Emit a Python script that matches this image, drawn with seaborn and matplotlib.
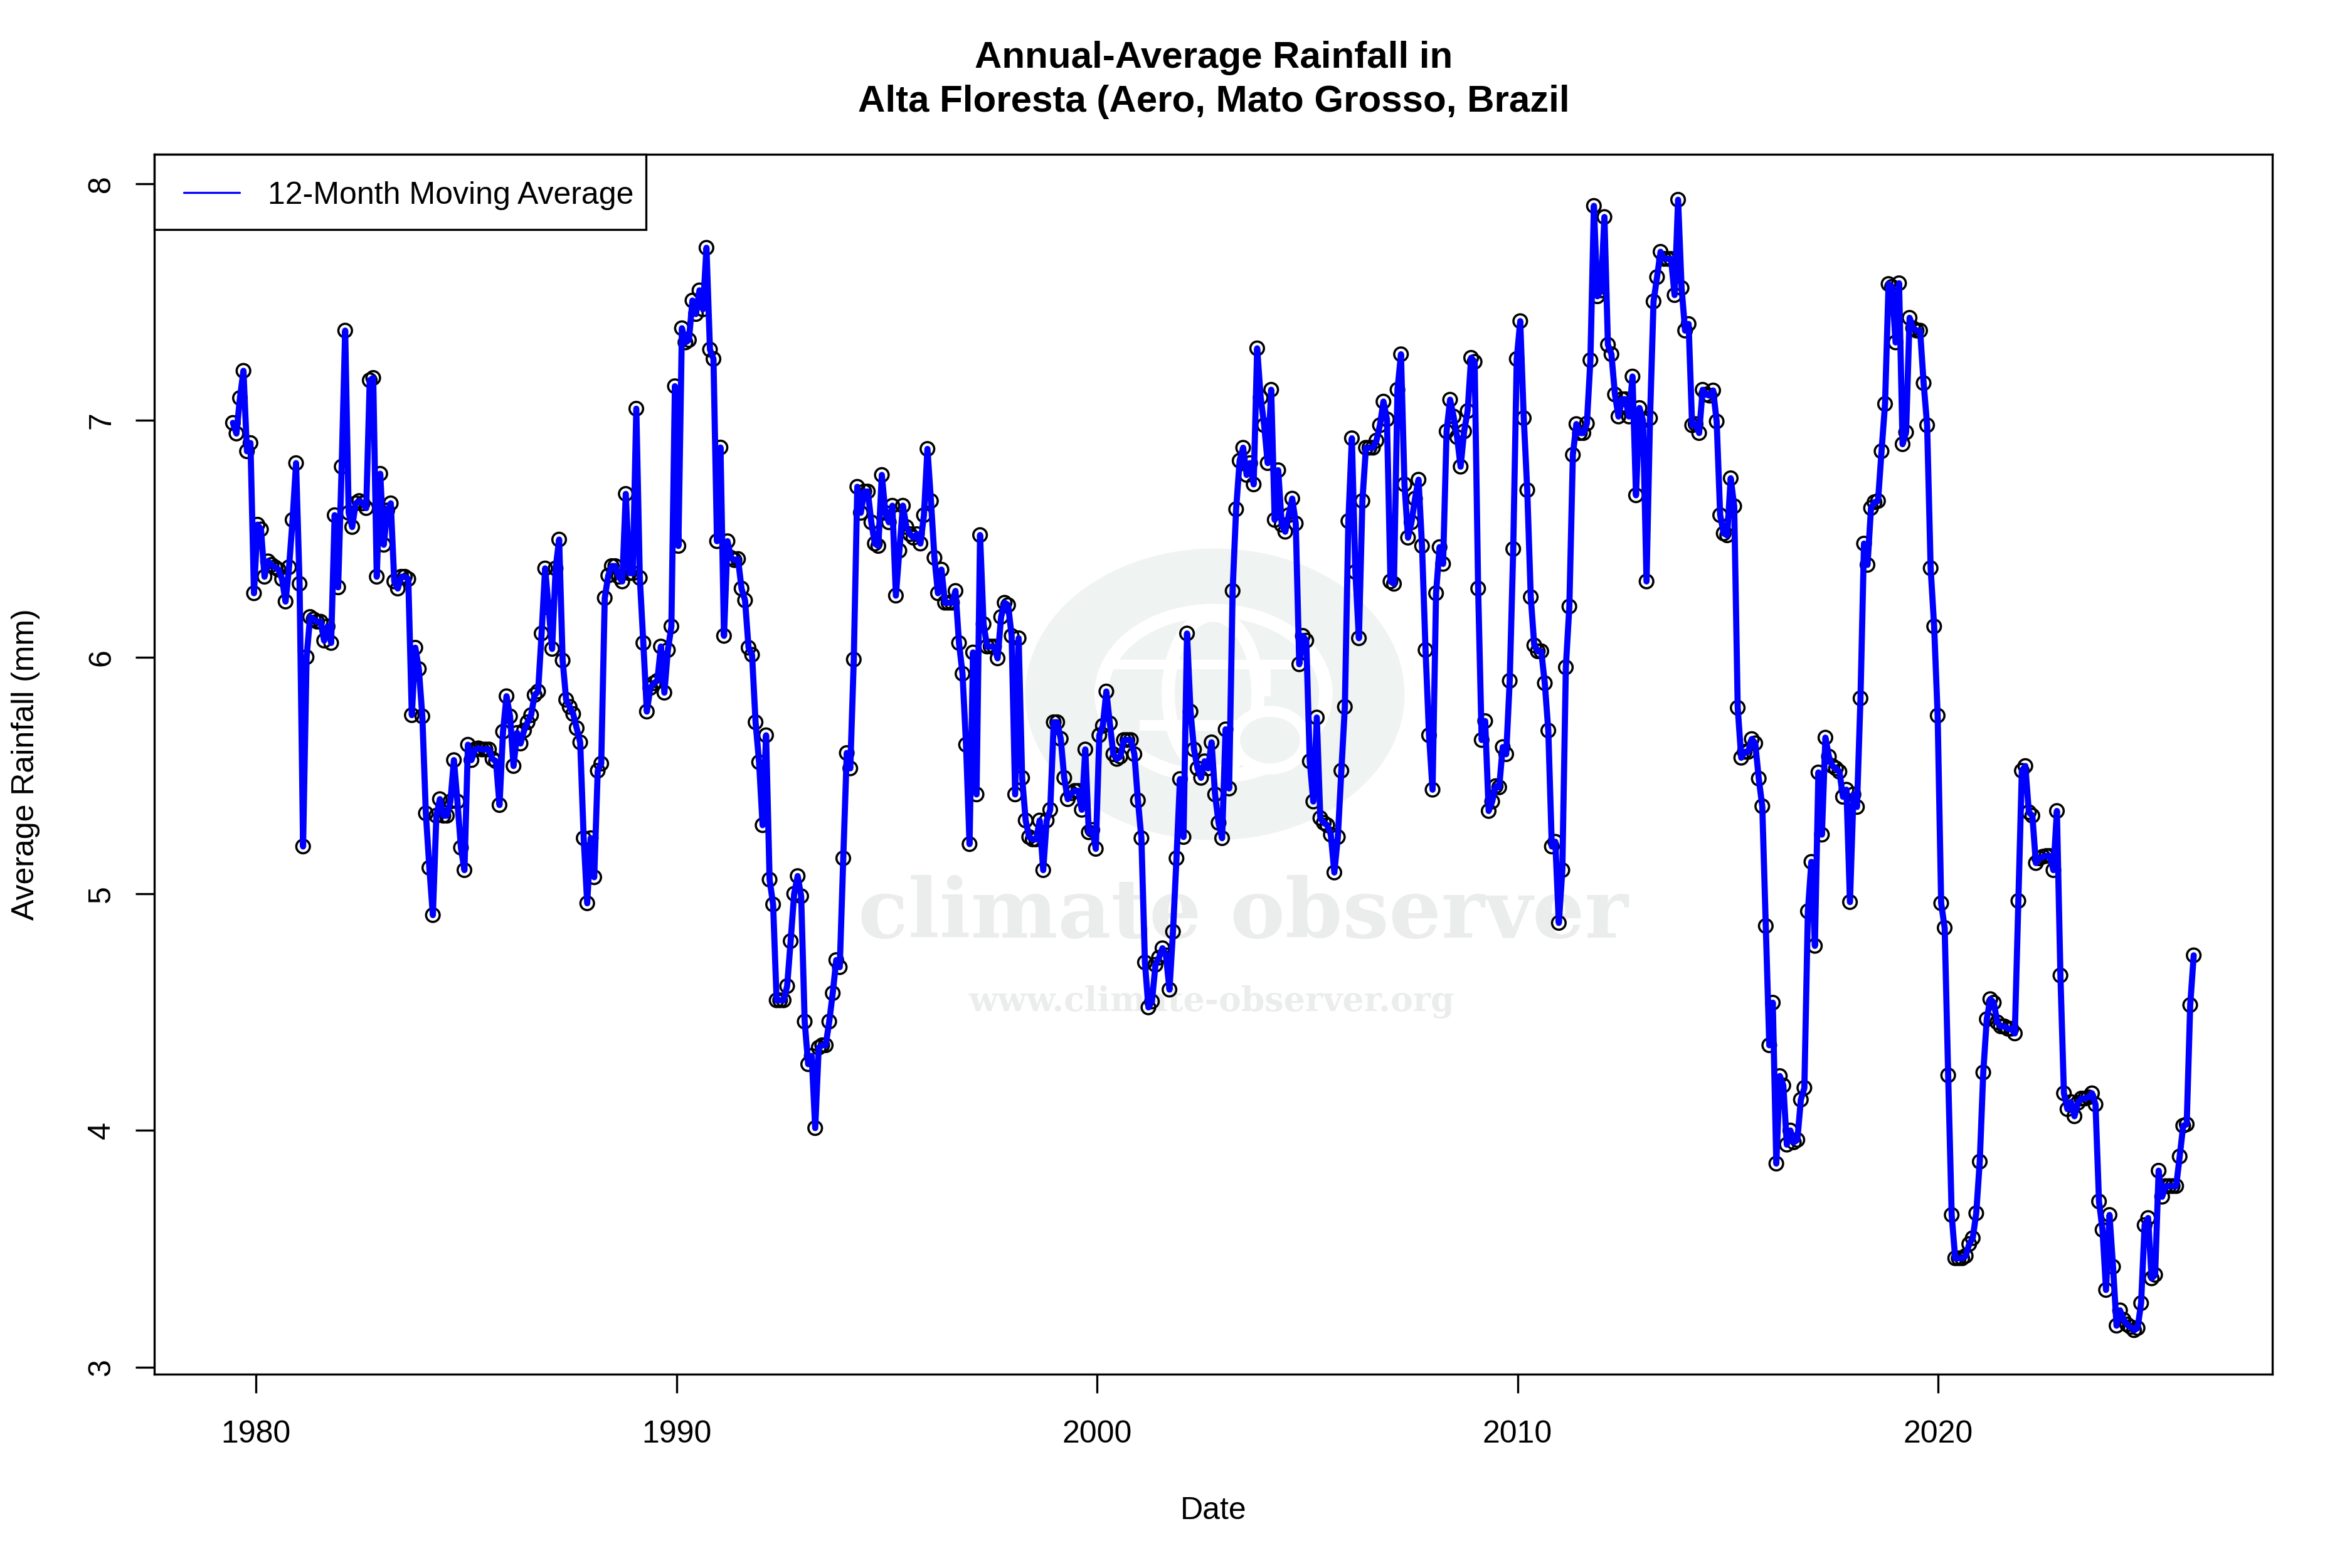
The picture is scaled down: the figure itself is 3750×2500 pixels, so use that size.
import numpy as np
import pandas as pd
import matplotlib
matplotlib.use("Agg")
import matplotlib.pyplot as plt
from matplotlib.lines import Line2D
from matplotlib.patches import Ellipse, Rectangle
import seaborn as sns

# monthly values, split by stretch of the record
rain_1979_88 = [6.99,6.945,7.095,7.21,6.87,6.905,6.27,6.56,6.54,6.34,6.405,6.39,6.38,6.37,6.33,6.235,6.38,6.58,6.82,6.31,
    5.20,6.0,6.17,6.16,6.15,6.15,6.07,6.13,6.06,6.60,6.295,6.805,7.38,6.61,6.55,6.65,6.66,6.65,6.63,7.17,7.18,6.34,6.775,
    6.475,6.62,6.65,6.32,6.29,6.34,6.34,6.33,5.755,6.04,5.95,5.75,5.34,5.11,4.91,5.33,5.40,5.33,5.33,5.39,5.565,5.39,5.195,
    5.10,5.63,5.565,5.61,5.615,5.61,5.61,5.61,5.57,5.56,5.375,5.685,5.835,5.75,5.54,5.68,5.635,5.69,5.725,5.755,5.84,5.855,
    6.10,6.375,6.21,6.035,6.375,6.497,5.986,5.82,5.79,5.76,5.70,5.64,5.235,4.96,5.235,5.07,5.52,5.55,6.25,6.345,6.385,6.385,
    6.34,6.32]
rain_1988_98 = [6.69,6.355,6.355,7.05,6.335,6.06,5.77,5.87,5.89,5.90,6.045,5.85,6.03,6.13,7.145,6.47,7.39,7.33,7.34,7.507,
    7.45,7.55,7.47,7.73,7.30,7.26,6.49,6.886,6.09,6.49,6.42,6.41,6.415,6.29,6.24,6.04,6.01,5.725,5.556,5.29,5.67,5.06,4.955,
    4.55,4.55,4.55,4.61,4.80,5.0,5.075,4.99,4.46,4.28,4.315,4.01,4.35,4.36,4.36,4.46,4.58,4.72,4.69,5.15,5.595,5.53,5.99,
    6.72,6.61,6.70,6.70,6.57,6.48,6.47,6.77,6.61,6.57,6.64,6.26,6.45,6.64,6.55,6.52,6.505,6.52,6.48,6.60,6.88,6.66,6.42,6.27,
    6.37,6.23,6.23,6.23,6.28,6.06,5.93,5.63,5.21,6.02,5.42,6.516,6.14,6.045,6.045,6.045,5.995,6.17,6.23,6.22,6.09,5.42,6.08,5.49]
rain_1998_08 = [5.31,5.24,5.23,5.23,5.31,5.10,5.31,5.355,5.725,5.725,5.655,5.49,5.40,5.425,5.435,5.435,5.355,5.61,5.26,5.27,
    5.19,5.67,5.71,5.855,5.72,5.59,5.57,5.58,5.65,5.65,5.65,5.59,5.395,5.235,4.71,4.52,4.545,4.70,4.73,4.77,4.74,4.595,4.84,
    5.15,5.485,5.24,6.10,5.77,5.61,5.53,5.49,5.56,5.53,5.64,5.42,5.30,5.235,5.695,5.445,6.28,6.625,6.83,6.885,6.77,6.82,6.73,
    7.305,7.097,6.98,6.82,7.13,6.58,6.79,6.56,6.53,6.60,6.67,6.565,5.97,6.09,6.07,5.56,5.39,5.745,5.32,5.30,5.29,5.25,5.09,
    5.24,5.52,5.79,6.575,6.925,6.36,6.08,6.66,6.885,6.885,6.885,6.915,6.98,7.08,7.005,6.32,6.31,7.13,7.28,6.73,6.505,6.57,
    6.67,6.75,6.47,6.03,5.67,5.44]
rain_2008_16 = [6.27,6.465,6.394,6.954,7.088,7.017,6.93,6.805,6.954,7.04,7.265,7.248,6.29,5.65,5.73,5.35,5.39,5.455,5.45,5.62,
    5.59,5.90,6.457,7.26,7.42,7.01,6.706,6.254,6.05,6.025,6.025,5.89,5.69,5.20,5.22,4.877,5.10,5.957,6.214,6.855,6.985,6.947,
    6.947,6.987,7.255,7.907,7.525,7.55,7.86,7.32,7.28,7.11,7.017,7.09,7.09,7.017,7.186,6.684,7.053,7.0,6.32,7.01,7.503,7.606,
    7.713,7.683,7.683,7.683,7.53,7.933,7.56,7.38,7.408,6.98,6.985,6.947,7.13,7.11,7.105,7.127,6.996,6.60,6.523,6.515,6.756,
    6.638,5.786,5.575,5.60,5.60,5.654,5.636,5.487,5.37,4.864]
rain_2016_21 = [4.36,4.54,3.86,4.23,4.19,3.94,4.0,3.95,3.96,4.13,4.18,4.926,5.135,4.78,5.513,5.25,5.66,5.58,5.54,5.53,5.516,
    5.41,5.44,4.965,5.42,5.367,5.826,6.48,6.39,6.63,6.655,6.66,6.87,7.07,7.577,7.565,7.33,7.58,6.90,6.95,7.434,7.39,7.38,7.38,
    7.158,6.98,6.376,6.13,5.753,4.96,4.856,4.233,3.643,3.46,3.46,3.46,3.47,3.52,3.545,3.65,3.868,4.245,4.47,4.555,4.54,4.457]
rain_2021_26 = [4.44,4.44,4.43,4.43,4.41,4.97,5.52,5.54,5.345,5.33,5.13,5.15,5.157,5.16,5.16,5.10,5.35,4.655,4.157,4.09,4.12,
    4.06,4.117,4.135,4.135,4.14,4.157,4.11,3.70,3.58,3.326,3.643,3.424,3.175,3.24,3.20,3.18,3.17,3.156,3.165,3.27,3.60,3.63,
    3.375,3.39,3.83,3.72,3.765,3.765,3.765,3.765,3.89,4.02,4.026,4.53,4.74]

first_year = 1979.45
last_year = 2026.08
year_ticks = [1980, 1990, 2000, 2010, 2020]
rain_ticks = [3, 4, 5, 6, 7, 8]

rain = rain_1979_88 + rain_1988_98 + rain_1998_08 + rain_2008_16 + rain_2016_21 + rain_2021_26
df = pd.DataFrame({"year": np.linspace(first_year, last_year, len(rain)), "rain": rain})

sns.set_theme(style="ticks")
plt.rcParams["font.family"] = ["Liberation Sans", "DejaVu Sans"]
plt.rcParams["axes.linewidth"] = 0.8
plt.rcParams["text.color"] = "black"

W, H = 3750, 2500
fig = plt.figure(figsize=(12.5, 25 / 3), dpi=300, facecolor="white")
ax = fig.add_axes([246 / W, 1 - 2191 / H, (3623 - 246) / W, (2191 - 246) / H])
ax.set_facecolor("none")


def fx(px):
    return px / W


def fy(px):
    return 1 - px / H


# watermark, placed in picture pixels behind the axes
GREEN = "#eff3f1"
GREY = "#ebecec"

def blob(x, y, w, h, **kw):
    fig.add_artist(Ellipse((fx(x), fy(y)), w / W, h / H, transform=fig.transFigure, zorder=-5, **kw))

def bar(x0, x1, y0, y1):
    fig.add_artist(Rectangle((fx(x0), fy(y1)), (x1 - x0) / W, (y1 - y0) / H, transform=fig.transFigure,
                             fc="white", ec="none", zorder=-5))

blob(1937, 1107, 605, 465, fc=GREEN, ec="none")
blob(1935, 1106, 358, 265, fc="none", ec="white", lw=5.2)
blob(1934, 1106, 143, 250, fc="none", ec="white", lw=5)
bar(1773, 2090, 1052, 1067)
bar(1817, 1980, 1148, 1165)
bar(2006, 2026, 1057, 1110)
blob(2025, 1180, 113, 92, fc=GREEN, ec="white", lw=4.2)
fig.text(fx(1982), fy(1495), "climate observer", ha="center", va="baseline", family="DejaVu Serif",
         fontweight="bold", fontsize=31.5, color=GREY, zorder=-5)
fig.text(fx(1932), fy(1612), "www.climate-observer.org", ha="center", va="baseline", family="DejaVu Serif",
         fontweight="bold", fontsize=12.9, color=GREY, zorder=-5)

sns.scatterplot(data=df, x="year", y="rain", ax=ax, marker="o", s=27, facecolors="none",
                edgecolor="black", linewidth=0.85, legend=False, zorder=2)
sns.lineplot(data=df, x="year", y="rain", ax=ax, color="#0000ff", linewidth=2.35, estimator=None,
             errorbar=None, sort=False, legend=False, zorder=3, solid_joinstyle="round", solid_capstyle="round")

ax.set_xlim(1977.58, 2027.95)
ax.set_ylim(2.97, 8.125)
ax.set_xticks(year_ticks)
ax.set_yticks(rain_ticks)
ax.tick_params(length=7.2, width=0.8, labelsize=12, color="black", labelcolor="black")
ax.tick_params(axis="x", pad=10.3)
ax.tick_params(axis="y", pad=7.4)
for lab in ax.get_yticklabels():
    lab.set_rotation(90)
    lab.set_va("center")
ax.set_xlabel("Date", fontsize=12, color="black", labelpad=18.3)
ax.set_ylabel("Average Rainfall (mm)", fontsize=12, color="black", labelpad=18)
for sp in ax.spines.values():
    sp.set_visible(True)
    sp.set_color("black")

fig.text(fx(1935), fy(92), "Annual-Average Rainfall in", ha="center", va="center", fontsize=14.4, fontweight="bold")
fig.text(fx(1935), fy(163), "Alta Floresta (Aero, Mato Grosso, Brazil", ha="center", va="center",
         fontsize=14.4, fontweight="bold")

# legend box is narrower on the right than its padding would give, so draw it apart
ax.add_patch(Rectangle((0, 1), (1030 - 246) / (3623 - 246), -(366 - 246) / (2191 - 246), transform=ax.transAxes,
                       fc="white", ec="black", lw=0.8, zorder=4, clip_on=False))
handle = Line2D([], [], color="#0000ff", lw=0.8)
leg = ax.legend([handle], ["12-Month Moving Average"], loc="upper left", bbox_to_anchor=(0.0028, 0.9975), borderaxespad=0,
                fontsize=12, frameon=False, handlelength=1.78, handletextpad=0.9, borderpad=0.76)
leg.set_zorder(5)

fig.savefig("out.png", dpi=300)
